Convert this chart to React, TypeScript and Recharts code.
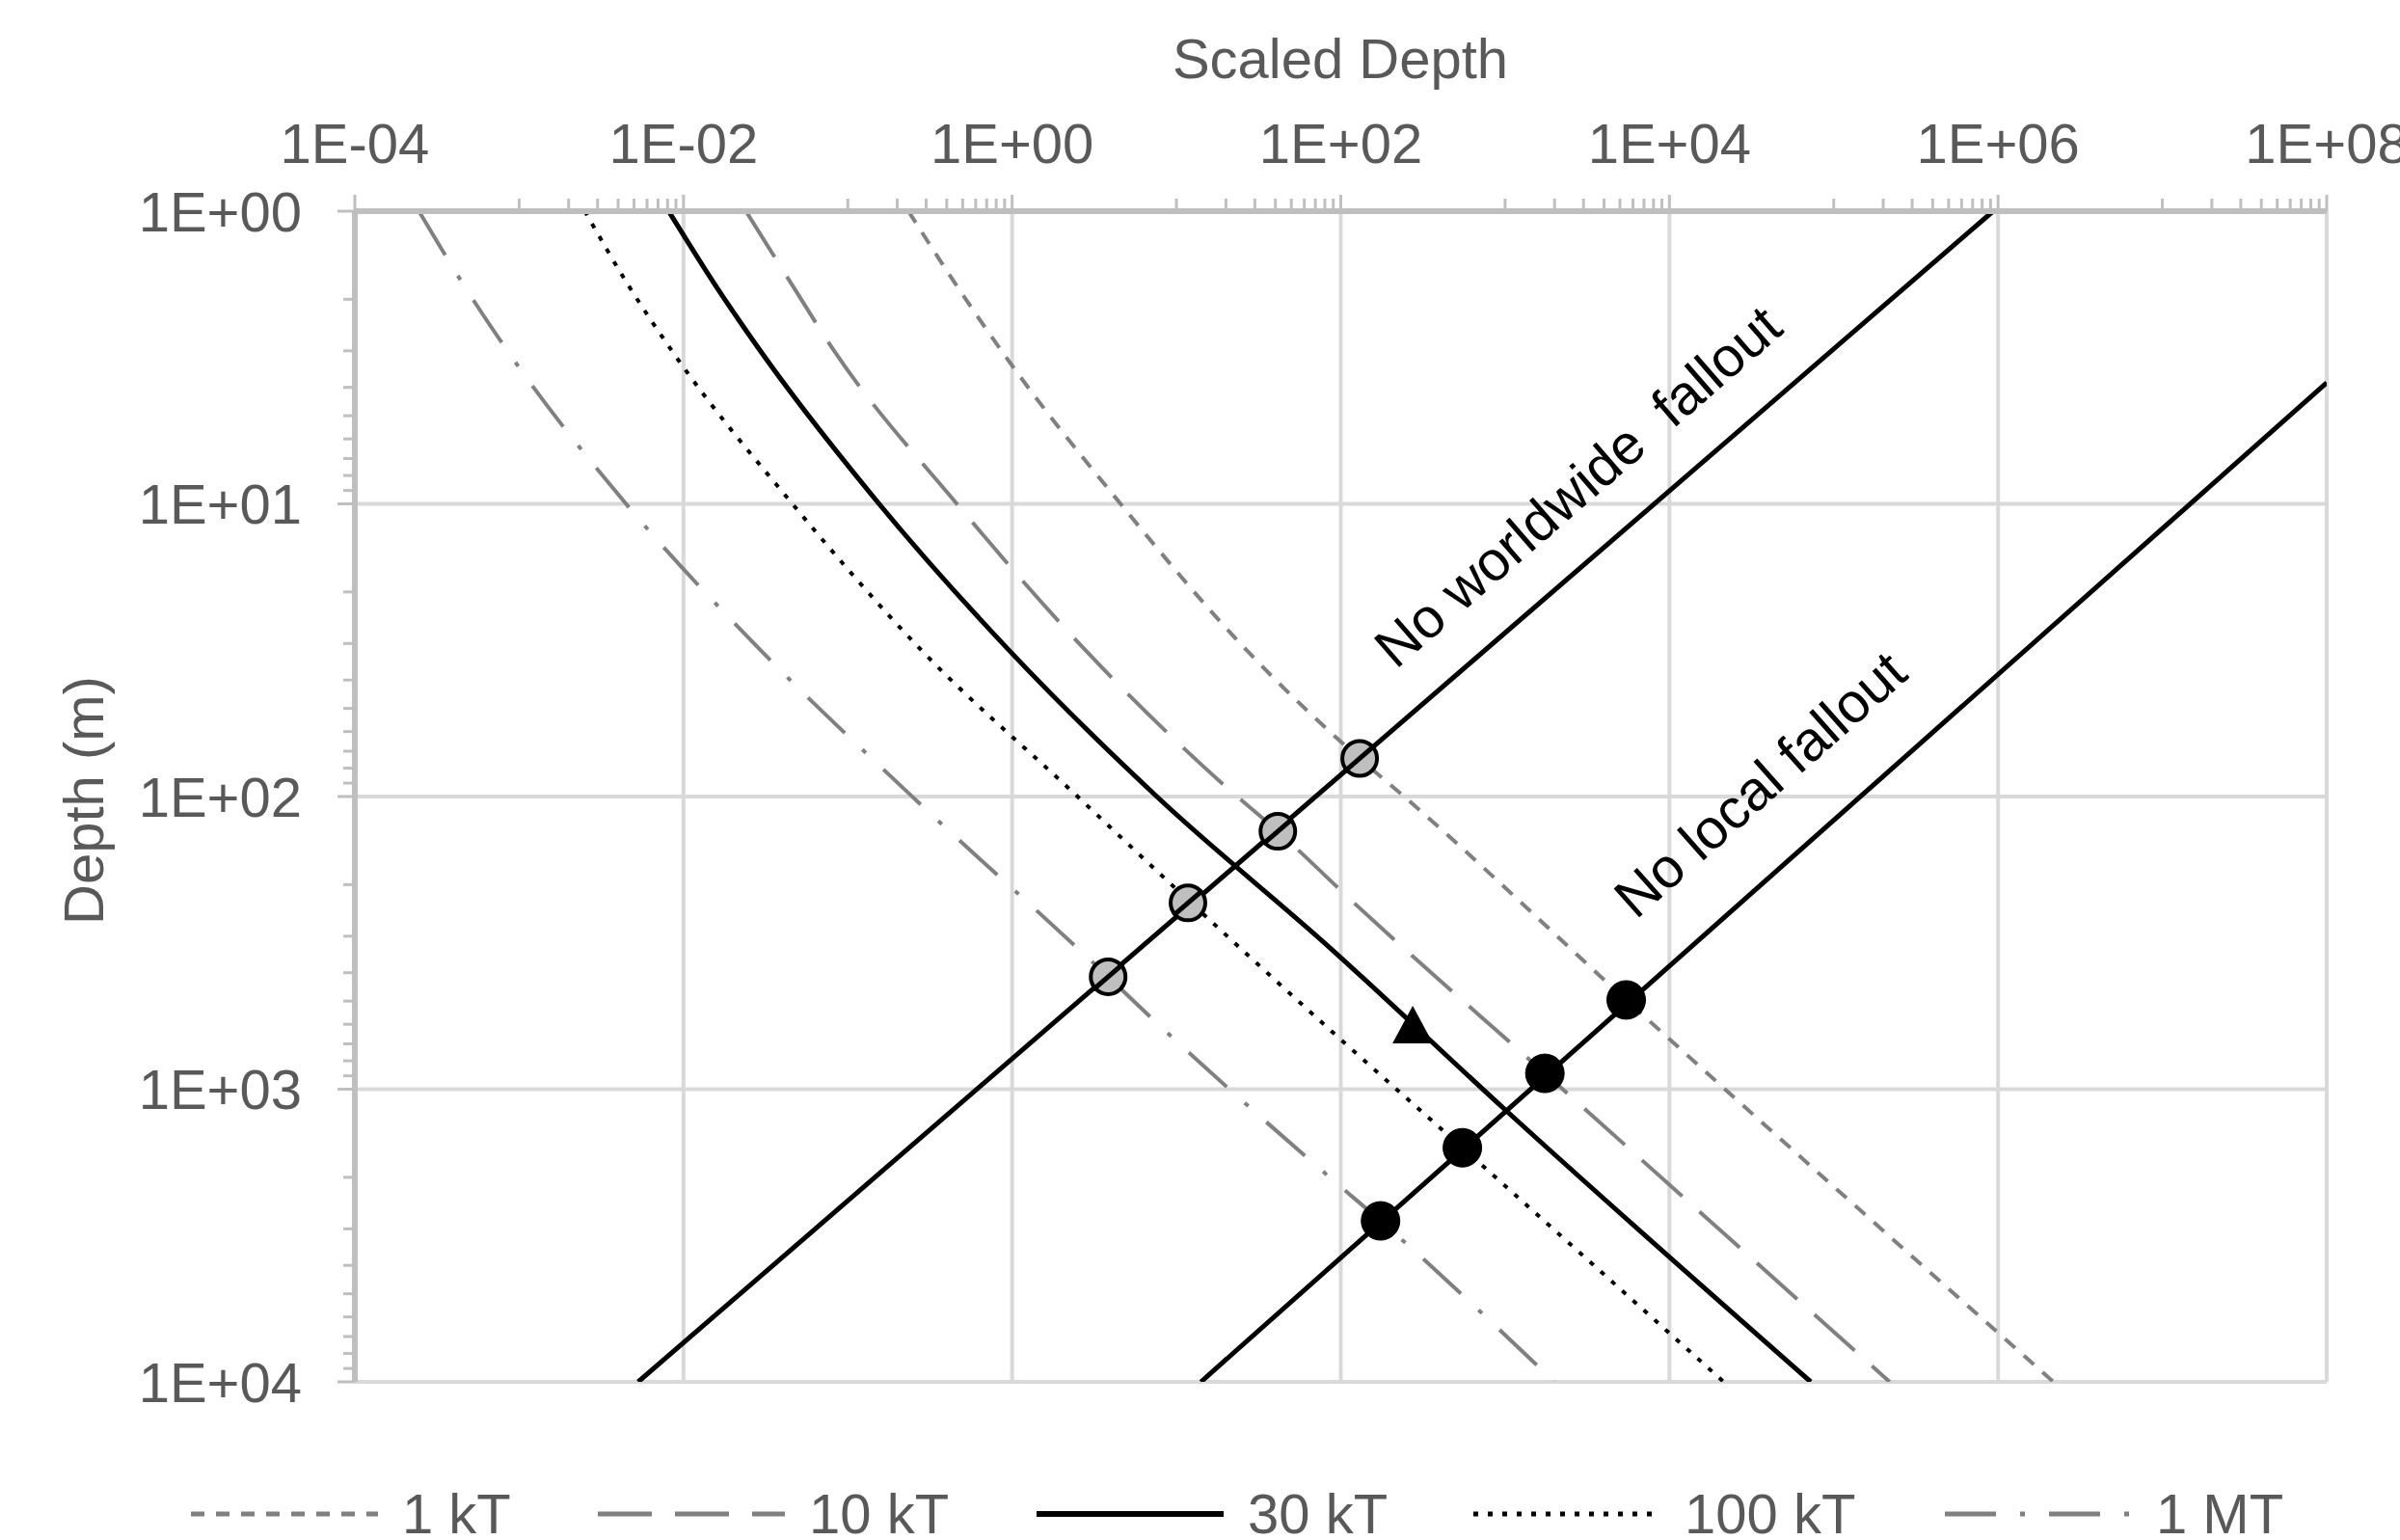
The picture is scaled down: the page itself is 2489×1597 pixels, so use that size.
import React from 'react';
import { ComposedChart, Line, XAxis, YAxis, CartesianGrid } from 'recharts';

// ---------- data (x = scaled depth, y = depth in m) ----------
const curve1kT = [
  { x: 0.234, y: 1 }, { x: 0.454, y: 1.778 }, { x: 0.977, y: 3.31 }, { x: 4.57, y: 10 },
  { x: 26.7, y: 31.6 }, { x: 130, y: 74.1 }, { x: 242.7, y: 100 }, { x: 5458, y: 495.5 },
  { x: 2.173e6, y: 10000 },
];
const curve10kT = [
  { x: 0.024, y: 1 }, { x: 0.0456, y: 1.778 }, { x: 0.0802, y: 2.93 }, { x: 0.461, y: 10 },
  { x: 2.79, y: 31.6 }, { x: 19.05, y: 90.4 }, { x: 41.4, y: 131.5 }, { x: 124.5, y: 235 },
  { x: 1746, y: 883 }, { x: 218800, y: 10000 },
];
const curve30kT = [
  { x: 0.00813, y: 1 }, { x: 0.0155, y: 1.778 }, { x: 0.0275, y: 2.85 }, { x: 0.155, y: 10 },
  { x: 0.955, y: 31.6 }, { x: 7.59, y: 100 }, { x: 87.1, y: 331 }, { x: 1000, y: 1175 },
  { x: 72440, y: 10000 },
];
const curve100kT = [
  { x: 0.00251, y: 1 }, { x: 0.00458, y: 1.778 }, { x: 0.00857, y: 3.02 }, { x: 0.046, y: 10 },
  { x: 0.28, y: 31.6 }, { x: 2.29, y: 95.5 }, { x: 12.3, y: 231 }, { x: 95.5, y: 661 },
  { x: 549.5, y: 1585 }, { x: 21380, y: 10000 },
];
const curve1MT = [
  { x: 0.0002455, y: 1 }, { x: 0.000457, y: 1.778 }, { x: 0.000824, y: 2.93 }, { x: 0.00447, y: 10 },
  { x: 0.0294, y: 31.6 }, { x: 0.239, y: 98.4 }, { x: 3.84, y: 413 }, { x: 6.01, y: 525 },
  { x: 86.9, y: 2014 }, { x: 174.6, y: 2818 }, { x: 1995, y: 10000 },
];

const worldwideLine = [{ x: 0.0053, y: 10000 }, { x: 933000, y: 1 }];
const localLine = [{ x: 14.09, y: 10000 }, { x: 1e8, y: 3.855 }];

const worldwideMarkers = [
  { x: 3.84, y: 413 }, { x: 11.75, y: 231 }, { x: 41.4, y: 131.5 }, { x: 130.3, y: 74.1 },
];
const localMarkers = [
  { x: 174.6, y: 2818 }, { x: 549.5, y: 1585 }, { x: 1746, y: 883 }, { x: 5458, y: 495.5 },
];
const triangleMarker = [{ x: 274, y: 608 }];

const lineLabels = [
  { x: 2761, y: 8.69, text: 'No worldwide  fallout' },
  { x: 35480, y: 90.6, text: 'No local fallout' },
];
const lineLabelAngles = [-41, -41.6];
const worldwideAngleDeg = 40.8;

// ---------- axes ----------
const xMajorTicks = [1e-4, 1e-2, 1, 1e2, 1e4, 1e6, 1e8];
const xTickLabels = ['1E-04', '1E-02', '1E+00', '1E+02', '1E+04', '1E+06', '1E+08'];
const yMajorTicks = [1, 10, 100, 1000, 10000];
const yTickLabels = ['1E+00', '1E+01', '1E+02', '1E+03', '1E+04'];
const minorMultipliers = [1, 2, 3, 4, 5, 6, 7, 8, 9];

const xMinorTicks: number[] = [];
xMajorTicks.slice(0, -1).forEach((m) => minorMultipliers.forEach((k) => xMinorTicks.push(k * m * 10)));
const yMinorTicks: number[] = [];
yMajorTicks.slice(0, -1).forEach((m) => minorMultipliers.slice(1).forEach((k) => yMinorTicks.push(k * m)));

const xAllTicks = [...xMajorTicks, ...xMinorTicks].sort((a, b) => a - b);
const yAllTicks = [...yMajorTicks, ...yMinorTicks].sort((a, b) => a - b);

const FONT = '"Liberation Sans", Arial, sans-serif';
const GREY_TEXT = '#595959';
const AXIS_GREY = '#bfbfbf';

const series = [
  { name: '1 kT', data: curve1kT, stroke: '#808080', width: 4, dash: '14 12' },
  { name: '10 kT', data: curve10kT, stroke: '#808080', width: 4, dash: '56 24' },
  { name: '30 kT', data: curve30kT, stroke: '#000000', width: 5, dash: undefined },
  { name: '100 kT', data: curve100kT, stroke: '#000000', width: 4, dash: '5 10' },
  { name: '1 MT', data: curve1MT, stroke: '#808080', width: 4, dash: '53 25 5 25' },
];

const legendLineX = [198, 620, 1075, 1528, 2017];

const XTick = (props: any) => {
  const { x, y, payload } = props;
  const idx = xMajorTicks.indexOf(payload.value);
  const major = idx >= 0;
  return (
    <g>
      <line x1={x} x2={x} y1={y} y2={y - (major ? 17 : 13)} stroke={AXIS_GREY} strokeWidth={3} />
      {major && (
        <text x={x} y={y - 71} textAnchor="middle" dominantBaseline="central" fontSize={58}
          fill={GREY_TEXT} fontFamily={FONT}>{xTickLabels[idx]}</text>
      )}
    </g>
  );
};

const YTick = (props: any) => {
  const { x, y, payload } = props;
  const idx = yMajorTicks.indexOf(payload.value);
  const major = idx >= 0;
  return (
    <g>
      <line x1={x} x2={x - (major ? 18 : 12)} y1={y} y2={y} stroke={AXIS_GREY} strokeWidth={3} />
      {major && (
        <text x={x - 55} y={y} textAnchor="end" dominantBaseline="central" fontSize={58}
          fill={GREY_TEXT} fontFamily={FONT}>{yTickLabels[idx]}</text>
      )}
    </g>
  );
};

const GreyCircle = (p: any) => {
  if (p.cx == null) return <g key={p.index} />;
  const a = (worldwideAngleDeg * Math.PI) / 180;
  const dx = 20 * Math.cos(a);
  const dy = 20 * Math.sin(a);
  return (
    <g key={p.index}>
      <circle cx={p.cx} cy={p.cy} r={18} fill="#bfbfbf" stroke="#000" strokeWidth={4} />
      <line x1={p.cx - dx} y1={p.cy + dy} x2={p.cx + dx} y2={p.cy - dy} stroke="#000" strokeWidth={5} />
    </g>
  );
};
const BlackCircle = (p: any) =>
  p.cx == null ? <g key={p.index} /> : (
    <circle key={p.index} cx={p.cx} cy={p.cy} r={20} fill="#000" stroke="#000" strokeWidth={1} />
  );
const Triangle = (p: any) =>
  p.cx == null ? <g key={p.index} /> : (
    <path key={p.index} d={`M${p.cx},${p.cy - 21} L${p.cx - 21},${p.cy + 18} L${p.cx + 21},${p.cy + 18} Z`} fill="#000" />
  );
const LabelDot = (p: any) => {
  if (p.cx == null) return <g key={p.index} />;
  const d = lineLabels[p.index];
  return (
    <text key={p.index} x={p.cx} y={p.cy} transform={`rotate(${lineLabelAngles[p.index]} ${p.cx} ${p.cy})`}
      textAnchor="middle" dominantBaseline="central" fontSize={58} fill="#000" fontFamily={FONT}
      style={{ whiteSpace: 'pre' }}>{d.text}</text>
  );
};

export default function App() {
  return (
    <div style={{ position: 'absolute', left: 0, top: 0, width: 2489, height: 1597, background: '#fff' }}>
      <ComposedChart width={2489} height={1597} margin={{ top: 119, left: 168, right: 76, bottom: 164 }}>
        <CartesianGrid verticalValues={xMajorTicks} horizontalValues={yMajorTicks}
          stroke="#d9d9d9" strokeWidth={4} />
        <XAxis xAxisId={0} dataKey="x" type="number" scale="log" domain={[1e-4, 1e8]} allowDataOverflow
          orientation="top" height={100} ticks={xAllTicks} interval={0} tick={<XTick />} tickLine={false}
          tickSize={0} tickMargin={0} axisLine={{ stroke: AXIS_GREY, strokeWidth: 6 }} />
        <YAxis yAxisId={0} dataKey="y" type="number" scale="log" domain={[1, 10000]} allowDataOverflow reversed
          width={200} ticks={yAllTicks} interval={0} tick={<YTick />} tickLine={false}
          tickSize={0} tickMargin={0} axisLine={{ stroke: AXIS_GREY, strokeWidth: 6 }} />
        {series.map((s) => (
          <Line key={s.name} data={s.data} dataKey="y" name={s.name} type="monotone" stroke={s.stroke}
            strokeWidth={s.width} strokeDasharray={s.dash} dot={false} activeDot={false}
            isAnimationActive={false} />
        ))}
        <Line data={worldwideLine} dataKey="y" type="linear" stroke="#000" strokeWidth={5} dot={false}
          activeDot={false} isAnimationActive={false} legendType="none" />
        <Line data={localLine} dataKey="y" type="linear" stroke="#000" strokeWidth={5} dot={false}
          activeDot={false} isAnimationActive={false} legendType="none" />
        <Line data={worldwideMarkers} dataKey="y" stroke="none" dot={GreyCircle} activeDot={false}
          isAnimationActive={false} legendType="none" />
        <Line data={localMarkers} dataKey="y" stroke="none" dot={BlackCircle} activeDot={false}
          isAnimationActive={false} legendType="none" />
        <Line data={triangleMarker} dataKey="y" stroke="none" dot={Triangle} activeDot={false}
          isAnimationActive={false} legendType="none" />
        <Line data={lineLabels} dataKey="y" stroke="none" dot={LabelDot} activeDot={false}
          isAnimationActive={false} legendType="none" />
      </ComposedChart>
      <svg width={2489} height={1597} style={{ position: 'absolute', left: 0, top: 0, pointerEvents: 'none' }}>
        <text x={1390} y={60} textAnchor="middle" dominantBaseline="central" fontSize={58} fill={GREY_TEXT}
          fontFamily={FONT}>Scaled Depth</text>
        <text x={86} y={830} textAnchor="middle" dominantBaseline="central" fontSize={58} fill={GREY_TEXT}
          fontFamily={FONT} transform="rotate(-90 86 830)">Depth (m)</text>
        {series.map((s, i) => (
          <g key={s.name}>
            <line x1={legendLineX[i]} x2={legendLineX[i] + 194} y1={1570} y2={1570} stroke={s.stroke}
              strokeWidth={s.width + 1} strokeDasharray={s.dash} />
            <text x={legendLineX[i] + 219} y={1590} fontSize={58} fill={GREY_TEXT} fontFamily={FONT}>{s.name}</text>
          </g>
        ))}
      </svg>
    </div>
  );
}
